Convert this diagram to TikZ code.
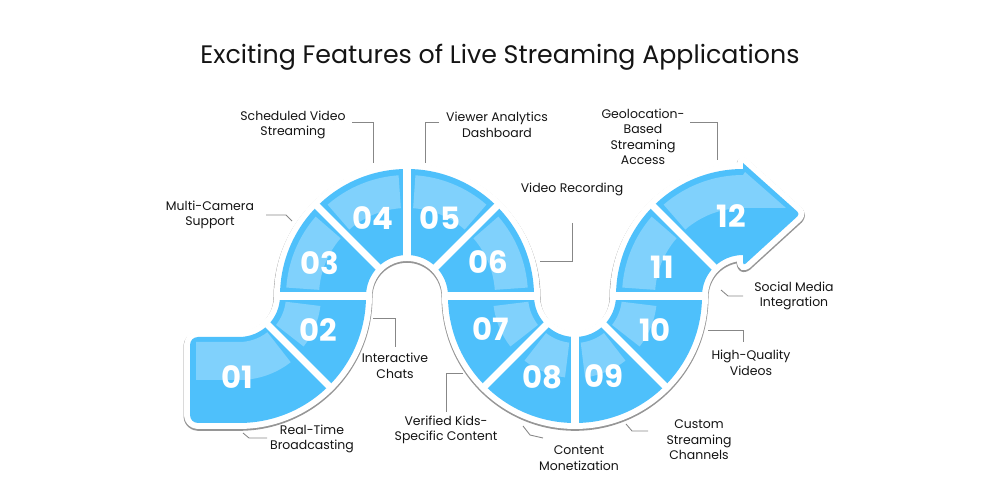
\documentclass[tikz,border=0pt]{standalone}
\usepackage{fontspec}
\setmainfont{Poppins}
\usetikzlibrary{calc}
\definecolor{bluemain}{RGB}{78,192,251}
\definecolor{bluelight}{RGB}{128,209,252}
\definecolor{leadgray}{RGB}{135,135,135}
\definecolor{rimgray}{RGB}{150,150,150}
\definecolor{inkc}{RGB}{20,20,20}
% outline of the whole S-shaped ribbon (plain numbers, so it can be shifted)
\newcommand{\ribbon}{(239,77) -- (198,77) arc[start angle=270, end angle=180, radius=8]
  -- (190,155) arc[start angle=180, end angle=90, radius=8] -- (239,163)
  arc[start angle=270, end angle=360, radius=41]
  arc[start angle=180, end angle=0, radius=127]
  arc[start angle=180, end angle=360, radius=41]
  arc[start angle=180, end angle=90, radius=127]
  -- (743,337) [rounded corners=2pt] -- (800,286) -- (743,234) [sharp corners] -- (743,245)
  arc[start angle=90, end angle=180, radius=41]
  arc[start angle=0, end angle=-180, radius=127]
  arc[start angle=0, end angle=180, radius=41]
  arc[start angle=0, end angle=-90, radius=127] -- cycle}

\begin{document}
\begin{tikzpicture}[x=0.02cm, y=0.02cm,
  num/.style={font=\fontsize{17.5}{17.5}\selectfont\bfseries, text=white, inner sep=0pt},
  lab/.style={font=\fontsize{7.1}{8.8}\selectfont, text=inkc, align=center, inner sep=0pt},
  lead/.style={draw=leadgray, line width=0.5pt},
  gap/.style={draw=white, line width=4pt},
  band/.style={fill=bluelight},
]
\useasboundingbox (0,0) rectangle (1000,500);

% ---- ring centres ----
\coordinate (c0) at (239,204);
\coordinate (c1) at (407,204);
\coordinate (c2) at (575,204);
\coordinate (c3) at (743,204);

% ---- title ----
\node[font=\fontsize{14.4}{17}\selectfont, text=inkc, anchor=base] (title) at (500,436)
  {Exciting Features of Live Streaming Applications};

% ---- ribbon: grey edge, white border, blue body ----
\draw[rimgray, line width=7.4pt, line join=round, yshift=-0.75pt] \ribbon;
\draw[white, fill=white, line width=6.8pt, line join=round] \ribbon;
\fill[bluemain] \ribbon;

% light bands on the upper side of the ribbon
\fill[band] (196,158) -- (239,158) arc[start angle=270, end angle=308, radius=46]
  -- ($(c0)+(308:84)$) arc[start angle=308, end angle=270, radius=84] -- (196,120) -- cycle;
\foreach \c/\a/\b in {c0/322/353, c2/187/218, c2/232/263, c2/277/308, c2/322/353}
  \fill[band] ($(\c)+(\a:47)$) arc[start angle=\a, end angle=\b, radius=47]
    -- ($(\c)+(\b:82)$) arc[start angle=\b, end angle=\a, radius=82] -- cycle;
\foreach \c/\a/\b in {c1/176/139, c1/131/94, c1/86/49, c1/41/4, c3/176/139}
  \fill[band] ($(\c)+(\a:88)$) arc[start angle=\a, end angle=\b, radius=88]
    -- ($(\c)+(\b:121)$) arc[start angle=\b, end angle=\a, radius=121] -- cycle;
\fill[band] ($(c3)+(131:88)$) arc[start angle=131, end angle=90, radius=88]
  -- (786,292) -- (745,328) -- (743,325) arc[start angle=90, end angle=131, radius=121] -- cycle;

% white gaps between the segments
\foreach \c/\a in {c0/315, c0/0, c1/135, c1/90, c1/45, c1/0, c2/225, c2/270, c2/315, c2/0, c3/135}
  \draw[gap] ($(\c)+(\a:37)$) -- ($(\c)+(\a:131)$);

% ---- numbers ----
\node[num] (n01) at (237,123) {01};
\node[num] (n02) at (318,170) {02};
\node[num] (n03) at (320,237) {03};
\node[num] (n04) at (373,282) {04};
\node[num] (n05) at (440,282) {05};
\node[num] (n06) at (488,238) {06};
\node[num] (n07) at (491,171) {07};
\node[num] (n08) at (542,123) {08};
\node[num] (n09) at (604,124) {09};
\node[num] (n10) at (655,170) {10};
\node[num] (n11) at (662,233) {11};
\node[num] (n12) at (731,284) {12};

% ---- labels ----
\node[lab] (t01) at (312,61) {Real-Time\\Broadcasting};
\node[lab] (t02) at (395,134) {Interactive\\Chats};
\node[lab] (t03) at (210,285) {Multi-Camera\\Support};
\node[lab] (t04) at (293,375) {Scheduled Video\\Streaming};
\node[lab] (t05) at (497,375) {Viewer Analytics\\Dashboard};
\node[lab] (t06) at (572,311) {Video Recording};
\node[lab] (t07) at (446,70) {Verified Kids-\\Specific Content};
\node[lab] (t08) at (579,42) {Content\\Monetization};
\node[lab] (t09) at (699,60) {Custom\\Streaming\\Channels};
\node[lab] (t10) at (751,137) {High-Quality\\Videos};
\node[lab] (t11) at (794,204) {Social Media\\Integration};
\node[lab] (t12) at (643,363) {Geolocation-\\Based\\Streaming\\Access};

% ---- leader lines ----
\coordinate (a01) at (267,62);  \coordinate (b01) at (249,62);  \coordinate (e01) at (243,67);
\coordinate (a02) at (373,182); \coordinate (b02) at (395,182); \coordinate (e02) at (395,153);
\coordinate (a03) at (266,285); \coordinate (b03) at (286,285); \coordinate (e03) at (292,279);
\coordinate (a04) at (352,378); \coordinate (b04) at (373,378); \coordinate (e04) at (373,337);
\coordinate (a05) at (439,378); \coordinate (b05) at (425,378); \coordinate (e05) at (425,337);
\coordinate (a06) at (572,277); \coordinate (b06) at (572,239); \coordinate (e06) at (540,239);
\coordinate (a07) at (463,127); \coordinate (b07) at (446,127); \coordinate (e07) at (446,88);
\coordinate (a08) at (543,62);  \coordinate (b08) at (530,65);  \coordinate (e08) at (523,74);
\coordinate (a09) at (648,69);  \coordinate (b09) at (632,69);  \coordinate (e09) at (626,76);
\coordinate (a10) at (708,170); \coordinate (b10) at (743,170); \coordinate (e10) at (743,158);
\coordinate (a11) at (743,204); \coordinate (b11) at (728,204); \coordinate (e11) at (721,210);
\coordinate (a12) at (690,378); \coordinate (b12) at (717,378); \coordinate (e12) at (717,340);
\foreach \i in {01,02,03,04,05,06,07,08,09,10,11,12}
  \draw[lead] (a\i) -- (b\i) -- (e\i);

\end{tikzpicture}
\end{document}
